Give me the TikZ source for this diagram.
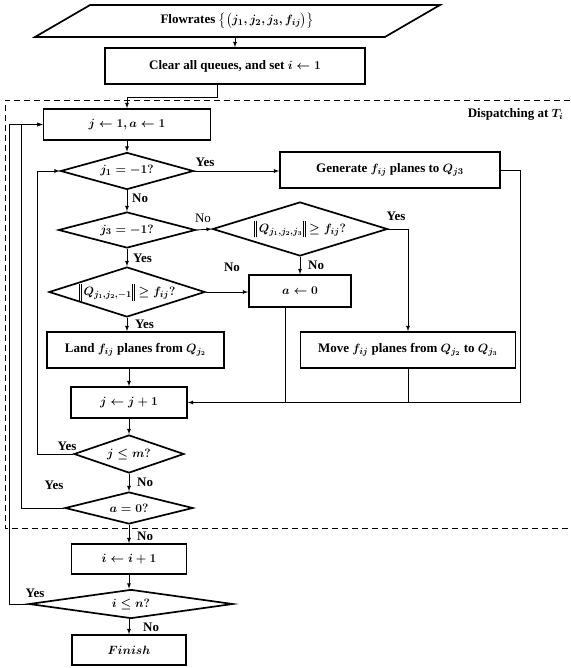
\documentclass[tikz,border=0pt]{standalone}
\usepackage{amsmath}
\usepackage{amssymb}
\usepackage{fontspec}
\setmainfont{Liberation Serif}
\usetikzlibrary{shapes.geometric,arrows,calc}
\newcommand{\normbar}{\rule[-5pt]{0.7pt}{17pt}\hspace{1.3pt}\rule[-5pt]{0.7pt}{17pt}}

\begin{document}
\begin{tikzpicture}[x=1pt, y=-1pt, >=latex,
  every node/.style={font=\fontsize{13}{15}\selectfont\bfseries\boldmath},
  box/.style={draw, line width=1.7pt, inner sep=0pt},
  dia/.style={diamond, draw, line width=1.7pt, inner sep=0pt},
  flow/.style={->, line width=0.8pt},
  link/.style={line width=0.8pt},
  lbl/.style={inner sep=0pt}]
  \useasboundingbox (0,0) rectangle (570,668);

  % Input and start
  \node[trapezium, trapezium left angle=22, trapezium right angle=158, trapezium stretches body,
        draw, line width=1.7pt, minimum width=405, minimum height=32] (input) at (237.5,21)
        {Flowrates $\bigl\{\bigl(j_1,j_2,j_3,f_{ij}\bigr)\bigr\}$};
  \node[box, minimum width=260, minimum height=36] (clear) at (235,66) {Clear all queues, and set $i \leftarrow 1$};

  % Dispatching block
  \draw[dashed, dash pattern=on 6pt off 4pt, line width=0.9pt] (570,100) -- (5,100) -- (5,528) -- (570,528);
  \node[anchor=east] (disp) at (567,114) {Dispatching at $T_i$};
  \node[box, minimum width=167, minimum height=31] (init) at (127,124.5) {$j \leftarrow 1, a \leftarrow 1$};
  \node[dia, minimum width=133, minimum height=37, aspect=3.6] (jone) at (127,171) {$j_1 = -1?$};
  \node[box, minimum width=220, minimum height=36] (gen) at (390,170) {Generate $f_{ij}$ planes to $Q_{j3}$};
  \node[dia, minimum width=137, minimum height=36, aspect=3.8] (jthree) at (127,230) {$j_3 = -1?$};
  \node[dia, minimum width=175, minimum height=54, aspect=3.24, inner xsep=-8pt] (qfull) at (300,229)
        {$\normbar\,Q_{j_1,j_2,j_3}\normbar \geq f_{ij}?$};
  \node[box, minimum width=102, minimum height=32] (azero) at (300,291) {$a \leftarrow 0$};
  \node[dia, minimum width=156, minimum height=50, aspect=3.12, inner xsep=-12pt] (qland) at (127,292)
        {$\normbar\,Q_{j_1,j_2,-1}\normbar \geq f_{ij}?$};
  \node[box, minimum width=177, minimum height=36] (land) at (135.5,350) {Land $f_{ij}$ planes from $Q_{j_2}$};
  \node[box, minimum width=215, minimum height=36] (move) at (408,350) {Move $f_{ij}$ planes from $Q_{j_2}$ to $Q_{j_3}$};
  \node[box, minimum width=116, minimum height=31] (jinc) at (129,402.5) {$j \leftarrow j+1$};
  \node[dia, minimum width=110, minimum height=38, aspect=2.9] (jlem) at (129,454) {$j \leq m?$};
  \node[dia, minimum width=128, minimum height=32, aspect=4] (azq) at (129,508) {$a = 0?$};

  % Outer loop
  \node[box, minimum width=115, minimum height=30] (iinc) at (129,559) {$i \leftarrow i+1$};
  \node[dia, minimum width=204, minimum height=29, aspect=7] (ilen) at (131,604) {$i \leq n?$};
  \node[box, minimum width=114, minimum height=30] (finish) at (129,650) {$Finish$};

  % Labels
  \node[lbl, anchor=west] (no1) at (132,198) {No};
  \node[lbl, font=\fontsize{13}{15}\selectfont] (no2) at (203,218) {No};
  \node[lbl, anchor=west] (yes2) at (133,258) {Yes};
  \node[lbl] (yes1) at (205,162) {Yes};
  \node[lbl] (yes3) at (396,216) {Yes};
  \node[lbl, anchor=west] (no3) at (308,265) {No};
  \node[lbl] (no4) at (232,267) {No};
  \node[lbl, anchor=west] (yes4) at (135,324) {Yes};
  \node[lbl] (yes5) at (67,446) {Yes};
  \node[lbl, anchor=west] (no5) at (137,482) {No};
  \node[lbl] (yes6) at (54,485) {Yes};
  \node[lbl, anchor=west] (no6) at (137,536) {No};
  \node[lbl] (yes7) at (35,593) {Yes};
  \node[lbl, anchor=west] (no7) at (143,627) {No};

  % Connectors
  \draw[flow] (clear.north |- input.south) -- (clear.north);
  \draw[flow] ([xshift=-18pt]clear.south) -- ++(0,13) -| (init.north);
  \draw[flow] (init.south) -- (jone.north);
  \draw[flow] (jone.east) -- (jone.east -| gen.west);
  \draw[flow] (gen.east) -- ++(20,0) |- (jinc.east);
  \draw[flow] (jone.south) -- (jthree.north);
  \draw[flow] (jthree.east) -- (qfull.west);
  \draw[flow] (jthree.south) -- (qland.north);
  \draw[flow] (qfull.east) -| (move.north);
  \draw[flow] (qfull.south) -- (azero.north);
  \draw[flow] (qland.east) -- (qland.east -| azero.west);
  \draw[flow] (qland.south) -- (qland.south |- land.north);
  \draw[flow] (jinc.north |- land.south) -- (jinc.north);
  \draw[link] ([xshift=-15pt]azero.south) -- ([xshift=-15pt]azero.south |- jinc.east);
  \draw[link] (move.south) -- (move.south |- jinc.east);
  \draw[flow] (jinc.south) -- (jlem.north);
  \draw[flow] (jlem.west) -- ++(-36,0) |- (jone.west);
  \draw[flow] (jlem.south) -- (azq.north);
  \draw[flow] (azq.west) -- ++(-43,0) |- (init.west);
  \draw[flow] (azq.south) -- (iinc.north);
  \draw[flow] (iinc.south) -- (iinc.south |- ilen.north);
  \draw[flow] (ilen.west) -- ++(-19,0) |- (init.west);
  \draw[flow] (finish.north |- ilen.south) -- (finish.north);
\end{tikzpicture}
\end{document}
